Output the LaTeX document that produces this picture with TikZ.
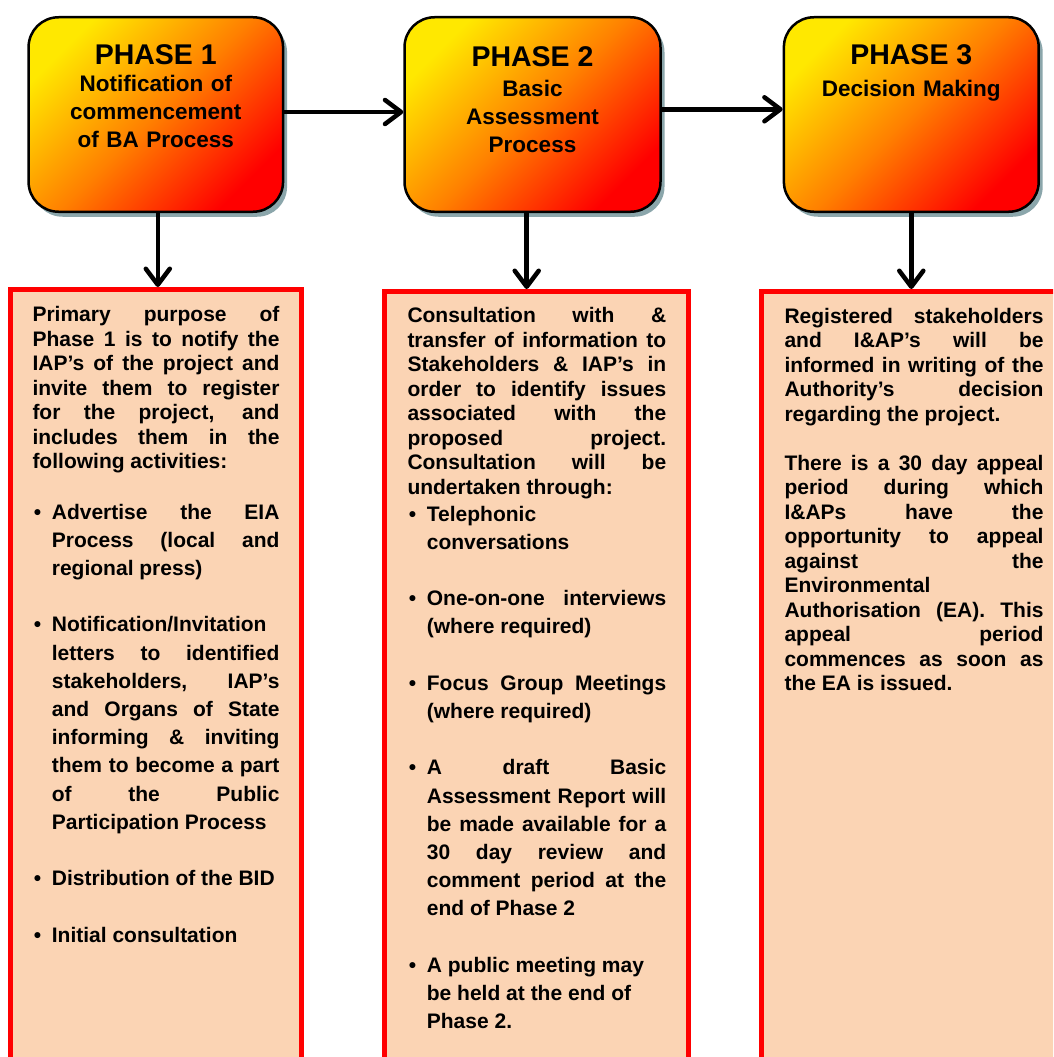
\documentclass[tikz,border=0pt]{standalone}
\usepackage{fontspec}
\setmainfont{Liberation Sans}
\usetikzlibrary{arrows.meta,shadows}
\definecolor{peach}{HTML}{FBD4B4}
\definecolor{shadowc}{HTML}{8BA6AB}
\definecolor{phy}{HTML}{FFE800}
\definecolor{pho}{HTML}{FF8000}
\definecolor{phr}{HTML}{FF0000}
\tolerance=10000
\hyphenpenalty=10000
\exhyphenpenalty=10000
\hbadness=10000
\newcommand{\jbr}{\linebreak}
\newcommand{\bulitem}[1]{\hangindent=19.4pt\hangafter=1\noindent\makebox[19.4pt][l]{\hspace{1.3pt}\textbullet}#1\par}
\newcommand{\gapline}{\vspace{28.2pt}}
\begin{document}
\begin{tikzpicture}[x=1pt,y=-1pt,
  phase/.style={draw=black,line width=2.5pt,rounded corners=30pt,
    top color=phy,bottom color=phr,middle color=pho,shading angle=45,
    drop shadow={shadow xshift=4pt,shadow yshift=-5pt,fill=shadowc,opacity=1},
    minimum height=194.5pt,inner sep=0pt},
  lowbox/.style={draw=phr,line width=5pt,fill=peach,inner sep=0pt,anchor=north},
  arr/.style={line width=4.5pt,-{Straight Barb[round,length=16pt,width=24pt]}},
  ttl/.style={anchor=base,inner sep=0pt,font=\fontsize{28.5}{34}\selectfont\bfseries},
  sub/.style={anchor=base,inner sep=0pt,text width=250pt,align=center,font=\fontsize{22.5}{28}\selectfont\bfseries},
  para/.style={anchor=base west,inner sep=0pt,align=justify,font=\fontsize{21}{24.5}\selectfont\bfseries},
  blist/.style={anchor=base west,inner sep=0pt,align=justify,font=\fontsize{21}{28.2}\selectfont\bfseries}]
\useasboundingbox (0,0) rectangle (1053,1057);
\clip (0,0) rectangle (1053,1057);
\fill[white] (0,0) rectangle (1053,1057);

% top phase boxes
\node[phase,minimum width=254.5pt] (p1) at (155.8,114.5) {};
\node[phase,minimum width=256pt] (p2) at (532.5,114.5) {};
\node[phase,minimum width=254.8pt] (p3) at (911.3,114.5) {};

\node[ttl] (t1) at (155.8,65) {PHASE 1};
\node[ttl] (t2) at (532.5,66.7) {PHASE 2};
\node[ttl] (t3) at (911.3,65) {PHASE 3};

\node[sub] (s1) at (155.8,91.7) {Notification of\\commencement\\of BA Process};
\node[sub] (s2) at (532.5,96.7) {Basic\\Assessment\\Process};
\node[sub] (s3) at (911.3,96.7) {Decision Making};

% lower boxes
\node[lowbox,minimum width=291pt,minimum height=900pt] (b1) at (156,287) {};
\node[lowbox,minimum width=304pt,minimum height=900pt] (b2) at (536.5,289) {};
\node[lowbox,minimum width=338.5pt,minimum height=900pt] (b3) at (930.75,289) {};

% arrows
\draw[arr] ([yshift=2.5pt]p1.east) -- ([yshift=2.5pt]p1.east -| p2.west);
\draw[arr] ([yshift=5.2pt]p2.east) -- ([yshift=5.2pt]p2.east -| p3.west);
\draw[arr] ([xshift=2pt]p1.south) -- ([xshift=2pt]p1.south |- b1.north);
\draw[arr] ([xshift=-5.8pt]p2.south) -- ([xshift=-5.8pt]p2.south |- b2.north);
\draw[arr] (p3.south) -- (p3.south |- b3.north);

% box 1 text
\node[para,text width=247pt] (x1) at (32.3,321.6) {Primary purpose of\jbr Phase 1 is to notify the\jbr IAP’s of the project and\jbr invite them to register\jbr for the project, and\jbr includes them in the\jbr following activities:};
\node[blist,text width=247pt] (l1) at (32.3,519) {\bulitem{Advertise the EIA\jbr Process (local and\jbr regional press)}\gapline
\bulitem{Notification/Invitation\jbr letters to identified\jbr stakeholders, IAP’s\jbr and Organs of State\jbr informing \& inviting\jbr them to become a part\jbr of the Public\jbr Participation Process}\gapline
\bulitem{Distribution of the BID}\gapline
\bulitem{Initial consultation}};

% box 2 text
\node[para,text width=258.7pt] (x2) at (407.3,322.6) {Consultation with \&\jbr transfer of information to\jbr Stakeholders \& IAP’s in\jbr order to identify issues\jbr associated with the\jbr proposed project.\jbr Consultation will be\jbr undertaken through:};
\node[blist,text width=258.7pt] (l2) at (407.3,521) {\bulitem{Telephonic\jbr conversations}\gapline
\bulitem{One-on-one interviews\jbr (where required)}\gapline
\bulitem{Focus Group Meetings\jbr (where required)}\gapline
\bulitem{A draft Basic\jbr Assessment Report will\jbr be made available for a\jbr 30 day review and\jbr comment period at the\jbr end of Phase 2}\gapline
\bulitem{\spaceskip=5.838pt\relax A public meeting may\jbr be held at the end of\jbr Phase 2.}};

% box 3 text
\node[para,text width=259pt] (x3) at (784.3,323) {Registered stakeholders\jbr and I\&AP’s will be\jbr informed in writing of the\jbr Authority’s decision\jbr regarding the project.\par\vspace{24.5pt}
There is a 30 day appeal\jbr period during which\jbr I\&APs have the\jbr opportunity to appeal\jbr against the\jbr Environmental\jbr Authorisation (EA). This\jbr appeal period\jbr commences as soon as\jbr the EA is issued.};
\end{tikzpicture}
\end{document}
